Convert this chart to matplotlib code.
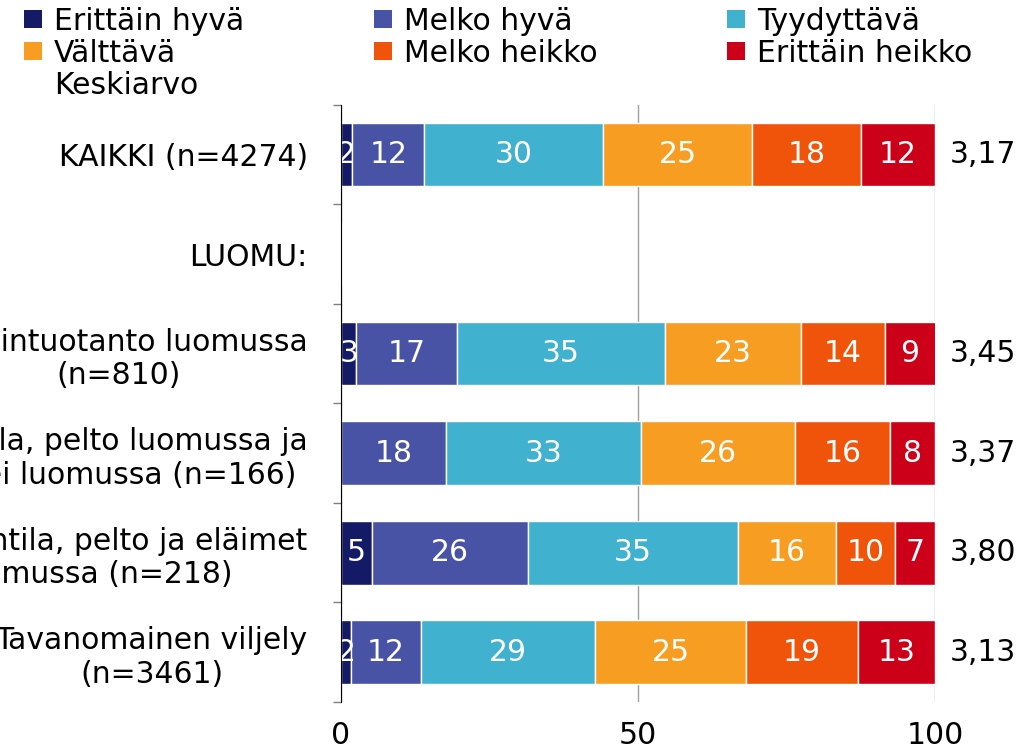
import numpy as np
import matplotlib
matplotlib.use("Agg")
import matplotlib.pyplot as plt
from matplotlib.patches import Patch

# rows from top to bottom (labels are cut at the left edge, as in the source image)
groups = ["KAIKKI (n=4274)",
          "LUOMU:",
          "Kasvintuotanto luomussa\n(n=810)",
          "Kotieläintila, pelto luomussa ja\neläimet ei luomussa (n=166)",
          "Kotieläintila, pelto ja eläimet\nluomussa (n=218)",
          "Tavanomainen viljely\n(n=3461)"]

series = ["Erittäin hyvä", "Melko hyvä", "Tyydyttävä",
          "Välttävä", "Melko heikko", "Erittäin heikko"]
colors = ["#141a66", "#4853a5", "#40b1cf", "#f79d22", "#ef540a", "#cc0019"]

# shares (%) per group
erittain_hyva = [1.9, 0.0, 2.6, 0.0, 5.2, 1.7]
melko_hyva = [12.1, 0.0, 16.9, 17.7, 26.3, 11.8]
tyydyttava = [30.1, 0.0, 35.0, 32.8, 35.3, 29.3]
valttava = [25.1, 0.0, 23.0, 25.9, 16.5, 25.4]
melko_heikko = [18.3, 0.0, 14.0, 16.0, 10.0, 18.8]
erittain_heikko = [12.5, 0.0, 8.6, 7.6, 6.7, 13.0]
keskiarvo = ["3,17", "", "3,45", "3,37", "3,80", "3,13"]

data = [erittain_hyva, melko_hyva, tyydyttava, valttava, melko_heikko, erittain_heikko]

FS = 21.5
plt.rcParams["font.family"] = ["DejaVu Sans"]
fig = plt.figure(figsize=(10.22, 7.56), dpi=100)
ax = fig.add_axes([0.3337, 0.0714, 0.5812, 0.790])

y = np.arange(len(groups))
left = np.zeros(len(groups))
handles = []
for vals, name, col in zip(data, series, colors):
    vals = np.array(vals)
    bars = ax.barh(y, vals, left=left, height=0.64, color=col,
                   edgecolor="white", linewidth=1, zorder=3)
    for b, v in zip(bars, vals):
        if v > 0:
            ax.text(b.get_x() + b.get_width() / 2, b.get_y() + b.get_height() / 2,
                    str(int(round(v))), ha="center", va="center",
                    color="white", fontsize=FS, zorder=4)
    left += vals
    handles.append(Patch(facecolor=col, edgecolor="none", label=name))

for yi, m in zip(y, keskiarvo):
    ax.text(102.4, yi, m, ha="left", va="center", fontsize=FS, clip_on=False)

ax.set_xlim(0, 100)
ax.set_ylim(len(groups) - 0.5, -0.5)
ax.set_xticks([0, 50, 100])
ax.tick_params(axis="x", length=0, labelsize=FS, pad=14)
ax.set_yticks(y)
ax.set_yticklabels(groups, fontsize=FS, multialignment="center")
ax.tick_params(axis="y", which="major", length=0, pad=24)
ax.set_yticks(np.arange(len(groups) + 1) - 0.5, minor=True)
ax.tick_params(axis="y", which="minor", length=6, color="#808080", width=1)
ax.xaxis.grid(True, color="#a0a0a0", linewidth=1, zorder=0)
for s in ["top", "right", "bottom"]:
    ax.spines[s].set_visible(False)
ax.spines["left"].set_color("black")
ax.spines["left"].set_zorder(5)

kesk = Patch(facecolor="none", edgecolor="none", label="Keskiarvo")
order = [handles[0], handles[3], kesk, handles[1], handles[4], handles[2], handles[5]]
fig.legend(handles=order, ncol=3, loc="upper left", bbox_to_anchor=(0.003, 1.019),
           frameon=False, fontsize=FS, handlelength=0.6, handleheight=0.6,
           handletextpad=0.4, columnspacing=4.35, labelspacing=0.1, borderpad=0.2)

fig.savefig("out.png", dpi=100)
